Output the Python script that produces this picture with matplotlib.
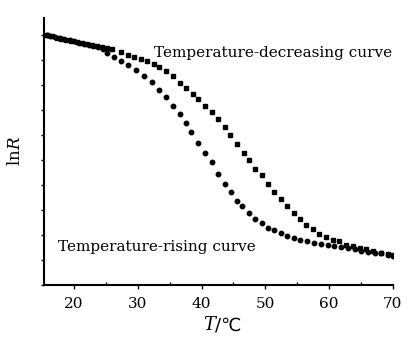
import numpy as np
import matplotlib
matplotlib.use("Agg")
import matplotlib.pyplot as plt
from matplotlib.ticker import MultipleLocator

plt.rcParams['font.family'] = ['DejaVu Serif', 'DejaVu Sans']
plt.rcParams['mathtext.fontset'] = 'dejavuserif'

# temperature-decreasing curve
t_down = [15.7, 16.5, 17.3, 18.0, 18.8, 19.6, 20.4, 21.2, 22.0, 22.8, 23.6, 24.4,
          25.2, 26.0, 27.3, 28.4, 29.4, 30.5, 31.5, 32.6, 33.4, 34.4, 35.5, 36.6,
          37.6, 38.7, 39.5, 40.5, 41.6, 42.6, 43.6, 44.5, 45.5, 46.6, 47.4, 48.4,
          49.4, 50.4, 51.3, 52.4, 53.4, 54.5, 55.4, 56.4, 57.4, 58.4, 59.5, 60.6,
          61.6, 62.7, 63.7, 64.8, 65.8, 66.9, 68.2, 69.3, 70.0]
lnr_down = [10.03, 9.96, 9.90, 9.86, 9.82, 9.79, 9.74, 9.70, 9.66, 9.62, 9.57, 9.52,
            9.49, 9.45, 9.34, 9.22, 9.14, 9.06, 8.96, 8.84, 8.74, 8.58, 8.36, 8.08,
            7.88, 7.66, 7.46, 7.19, 6.93, 6.66, 6.34, 6.00, 5.66, 5.30, 4.99, 4.66,
            4.39, 4.05, 3.71, 3.44, 3.17, 2.90, 2.63, 2.39, 2.23, 2.06, 1.93, 1.82,
            1.75, 1.62, 1.55, 1.49, 1.42, 1.35, 1.28, 1.24, 1.18]

# temperature-rising curve
t_up = [15.7, 16.3, 17.0, 17.8, 18.5, 19.3, 20.0, 20.8, 21.5, 22.3, 23.0, 23.8,
        24.5, 25.2, 26.3, 27.3, 28.4, 29.7, 31.0, 32.3, 33.4, 34.4, 35.5, 36.6,
        37.5, 38.4, 39.5, 40.5, 41.6, 42.6, 43.6, 44.6, 45.5, 46.4, 47.4, 48.4,
        49.4, 50.4, 51.3, 52.4, 53.4, 54.5, 55.5, 56.6, 57.7, 58.7, 59.8, 60.8,
        61.9, 62.9, 64.0, 65.0, 66.1, 67.2, 68.2, 69.3, 70.0]
lnr_up = [10.03, 9.98, 9.93, 9.88, 9.84, 9.80, 9.76, 9.71, 9.67, 9.63, 9.58, 9.52,
          9.45, 9.30, 9.13, 8.98, 8.81, 8.60, 8.38, 8.12, 7.82, 7.52, 7.19, 6.86,
          6.48, 6.12, 5.69, 5.29, 4.93, 4.45, 4.05, 3.71, 3.37, 3.15, 2.90, 2.63,
          2.47, 2.30, 2.20, 2.09, 1.98, 1.89, 1.82, 1.75, 1.69, 1.65, 1.59, 1.55,
          1.53, 1.49, 1.42, 1.35, 1.31, 1.28, 1.26, 1.21, 1.17]

fig = plt.figure(figsize=(4.08, 3.38), dpi=100)
ax = fig.add_axes([0.108, 0.157, 0.855, 0.79])

ax.plot(t_down, lnr_down, linestyle='none', marker='s', markersize=3.4, color='black')
ax.plot(t_up, lnr_up, linestyle='none', marker='o', markersize=3.2, color='black')

ax.text(32.5, 9.31, "Temperature-decreasing curve", fontsize=11, va='center', ha='left')
ax.text(17.5, 1.54, "Temperature-rising curve", fontsize=11, va='center', ha='left')

ax.set_xlim(15.3, 70)
ax.set_ylim(0, 10.7)
ax.spines['top'].set_visible(False)
ax.spines['right'].set_visible(False)
ax.spines['left'].set_linewidth(1.5)
ax.spines['bottom'].set_linewidth(1.5)

ax.xaxis.set_major_locator(MultipleLocator(10))
ax.xaxis.set_minor_locator(MultipleLocator(5))
ax.yaxis.set_major_locator(MultipleLocator(1))
ax.tick_params(axis='x', which='major', direction='out', length=3, width=1, labelsize=11, pad=6)
ax.tick_params(axis='x', which='minor', direction='in', length=2, width=1)
ax.tick_params(axis='y', which='major', direction='out', length=2.5, width=1, labelleft=False)

# x label: italic T, then "/℃"
fig.text(0.527, 0.038, "T", fontsize=13, style='italic', ha='right', va='center')
fig.text(0.527, 0.038, "/℃", fontsize=13, ha='left', va='center',
         family=['DejaVu Sans'])
ax.set_ylabel("ln$R$", fontsize=12, labelpad=12)

fig.savefig("out.png", dpi=100)
